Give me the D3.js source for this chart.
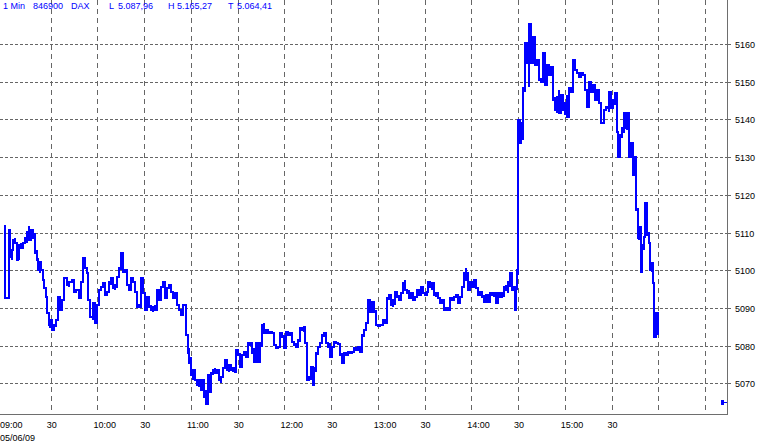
<!DOCTYPE html>
<html><head><meta charset="utf-8">
<script src="https://cdn.jsdelivr.net/npm/d3@7/dist/d3.min.js"></script>
<style>
html,body{margin:0;padding:0;background:#fff;}
svg{display:block;font-family:"Liberation Sans",Arial,sans-serif;}
</style>
</head><body>
<svg id="chart" width="758" height="444"></svg>
<script>
// ---------------- data ----------------
const sessionDate = "05/06/09";
const headerFields = ["1 Min", "846900", "DAX"];
const statKeys = ["L", "H", "T"];
const statValues = [5087.96, 5165.27, 5064.41];
const priceTicks = [5070, 5080, 5090, 5100, 5110, 5120, 5130, 5140, 5150, 5160];
const timeTickLabels = ["09:00","30","10:00","30","11:00","30","12:00","30","13:00","30","14:00","30","15:00","30","",""];
const markerPrice = 5065.0;

// minutes after 09:00 for each plotted bar
const barMinute = [
0.5,2.6,3.5,4.8,5.5,6.7,7.8,8.7,9.6,10.8,
11.9,13.2,14.4,15.7,17.0,18.3,19.6,20.9,21.5,22.5,
23.4,24.7,25.5,26.6,27.3,28.6,29.2,30.5,31.8,33.1,
34.3,35.4,36.9,38.2,40.1,41.7,43.1,44.3,45.9,48.0,
49.1,50.4,51.7,52.8,53.8,55.1,56.6,58.1,59.4,60.7,
62.0,63.3,64.5,65.8,67.1,68.4,69.7,70.9,72.2,73.5,
74.8,76.1,77.4,78.6,79.9,81.2,82.5,83.8,85.1,86.3,
87.6,88.9,90.2,91.5,92.8,94.1,95.3,96.6,97.9,99.2,
100.5,101.8,103.1,104.3,105.6,106.9,108.2,109.5,110.7,112.0,
113.3,114.6,116.5,117.5,118.4,119.7,121.0,122.3,123.6,124.9,
126.2,127.4,128.3,129.2,130.5,131.7,132.6,133.9,135.1,136.4,
137.7,139.0,140.3,141.6,142.8,144.1,145.4,146.7,148.0,148.8,
150.1,151.4,152.7,153.9,155.2,156.1,157.4,158.7,160.0,161.3,
162.6,163.8,165.1,166.4,167.7,169.0,170.3,171.5,172.8,174.1,
175.4,176.7,178.0,179.2,180.5,181.8,183.1,184.4,185.7,186.9,
188.2,189.5,190.8,192.1,193.1,194.2,195.5,196.8,197.9,198.9,
200.2,201.5,202.7,204.0,205.3,206.6,207.9,209.2,210.4,211.7,
213.0,214.3,215.6,216.9,218.1,219.4,220.7,222.0,223.3,224.6,
225.9,227.1,228.4,229.7,231.0,232.3,233.2,234.5,235.7,237.0,
238.3,240.0,241.3,243.0,244.3,245.6,246.8,248.1,249.4,250.7,
252.0,253.3,254.6,255.8,257.1,258.4,259.7,261.0,262.3,263.5,
264.8,266.1,267.4,268.7,270.0,271.2,272.1,273.4,274.6,275.9,
277.2,278.5,279.8,281.1,282.4,283.6,284.9,286.2,287.5,288.8,
290.1,291.3,292.6,293.9,295.0,296.3,297.6,298.8,300.1,301.4,
302.7,304.0,305.3,306.5,307.8,309.1,310.4,311.7,313.0,314.3,
315.5,316.8,318.1,319.4,320.7,322.0,323.2,324.5,325.8,327.1,
327.8,328.4,329.0,329.6,330.8,331.6,332.9,334.2,335.5,336.7,
338.0,339.3,340.6,341.9,343.2,344.4,345.7,347.0,348.3,349.6,
350.9,352.1,353.4,354.7,356.0,357.3,358.6,359.8,361.1,362.4,
363.7,365.0,366.3,367.5,368.8,370.1,371.4,372.7,374.0,375.2,
376.5,377.8,379.1,380.4,381.7,382.9,384.7,386.0,387.3,388.3,
389.4,390.7,392.0,393.0,393.9,395.0,396.2,397.5,398.5,399.6,
400.9,402.2,403.3,404.3,405.4,406.5,407.5,408.4,409.3,410.4,
411.4,412.5,413.6,414.4,415.5,416.2,417.2,418.5,419.6
];
const barHigh = [
5112.0,5110.7,5105.9,5105.4,5108.0,5108.5,5106.2,5104.1,5106.7,5107.2,
5107.2,5108.5,5110.1,5111.7,5110.7,5109.9,5109.9,5105.4,5103.3,5102.2,
5102.2,5100.1,5097.4,5095.3,5092.9,5088.6,5086.8,5086.0,5085.5,5086.8,
5092.9,5092.6,5092.1,5097.9,5097.4,5096.9,5097.4,5096.9,5094.7,5094.0,
5096.9,5103.3,5102.7,5100.6,5099.3,5091.3,5091.3,5088.9,5090.8,5094.7,
5095.5,5096.6,5094.7,5094.2,5096.9,5097.9,5096.9,5096.1,5098.2,5100.6,
5104.6,5101.9,5100.1,5099.5,5096.1,5097.9,5097.4,5096.9,5094.0,5090.8,
5097.9,5096.9,5090.8,5092.9,5092.6,5090.8,5090.2,5090.8,5094.7,5094.7,
5095.5,5096.9,5094.7,5095.3,5096.1,5096.1,5094.0,5094.0,5092.6,5090.8,
5089.4,5090.8,5090.8,5079.6,5079.4,5077.0,5073.5,5073.0,5070.9,5070.9,
5070.3,5070.9,5069.5,5068.2,5072.2,5070.3,5072.7,5073.5,5074.1,5073.5,
5073.5,5071.7,5074.1,5076.2,5075.6,5074.9,5074.3,5074.1,5074.3,5078.8,
5078.8,5078.0,5077.5,5078.3,5078.3,5080.7,5081.0,5081.0,5079.4,5080.7,
5077.0,5080.7,5085.5,5086.0,5084.1,5083.6,5083.6,5083.6,5083.3,5080.2,
5079.6,5083.3,5083.3,5082.8,5083.6,5083.6,5083.3,5083.3,5080.7,5080.7,
5081.5,5084.7,5084.9,5084.9,5084.9,5080.7,5071.7,5074.3,5073.5,5074.1,
5078.0,5079.6,5080.7,5082.8,5083.3,5083.3,5081.0,5080.7,5079.6,5081.0,
5081.0,5080.7,5080.7,5078.0,5078.0,5078.0,5078.3,5078.3,5078.3,5079.4,
5079.4,5079.6,5079.4,5082.8,5084.1,5086.0,5092.1,5091.3,5091.6,5090.0,
5089.4,5085.5,5085.5,5086.8,5086.8,5092.6,5093.4,5092.9,5092.1,5094.2,
5094.2,5093.4,5094.0,5096.6,5097.4,5094.7,5094.7,5094.0,5092.9,5092.9,
5094.7,5094.2,5095.5,5095.3,5094.2,5094.2,5096.9,5096.6,5096.6,5094.2,
5094.0,5093.4,5092.6,5092.1,5091.3,5090.0,5090.2,5092.6,5092.6,5092.9,
5093.4,5092.9,5092.9,5095.5,5099.3,5100.6,5099.5,5096.9,5096.9,5097.4,
5097.4,5094.7,5094.2,5094.0,5093.4,5093.4,5092.9,5094.0,5094.2,5094.0,
5092.9,5094.0,5094.0,5094.0,5095.5,5096.1,5096.9,5099.3,5097.4,5095.5,
5095.5,5095.5,5100.1,5139.8,5136.4,5139.0,5148.3,5160.3,5158.4,5165.3,
5162.4,5161.9,5161.6,5155.8,5154.4,5151.0,5157.6,5156.6,5154.4,5154.4,
5153.9,5151.8,5145.9,5145.9,5147.8,5146.5,5144.6,5144.3,5146.5,5148.3,
5147.8,5155.8,5155.8,5153.1,5152.6,5152.3,5152.6,5151.8,5147.8,5149.9,
5149.7,5149.1,5147.8,5147.8,5147.3,5143.8,5142.5,5143.3,5143.3,5147.3,
5146.5,5145.1,5147.0,5144.6,5134.5,5135.9,5137.7,5141.7,5141.7,5141.7,
5137.7,5133.7,5132.7,5130.0,5125.8,5116.5,5111.5,5107.2,5106.7,5108.8,
5117.8,5111.2,5110.1,5107.2,5101.9,5101.9,5096.6,5088.6,5088.0
];
const barLow = [
5092.6,5101.9,5103.5,5102.7,5105.4,5107.2,5102.7,5102.7,5102.7,5105.9,
5106.7,5107.2,5107.2,5108.0,5109.3,5108.5,5104.6,5102.7,5100.1,5099.3,
5100.1,5097.4,5095.3,5092.9,5088.6,5085.5,5084.7,5084.1,5084.1,5084.9,
5087.6,5089.4,5090.2,5092.1,5096.1,5095.5,5096.6,5094.2,5094.2,5092.6,
5092.6,5097.9,5100.6,5099.3,5092.1,5087.6,5086.8,5086.0,5088.6,5091.3,
5094.7,5095.3,5093.4,5094.0,5094.2,5096.1,5095.3,5094.7,5095.3,5097.9,
5100.1,5099.5,5099.5,5096.1,5094.7,5096.6,5096.9,5094.2,5090.2,5090.0,
5090.0,5094.0,5089.4,5090.2,5090.2,5089.4,5088.9,5089.4,5091.3,5092.1,
5094.7,5095.3,5092.6,5094.0,5095.3,5094.2,5092.6,5092.6,5090.8,5089.4,
5088.1,5088.1,5082.8,5078.0,5075.4,5072.2,5070.9,5070.9,5069.5,5069.0,
5068.2,5068.8,5066.4,5064.4,5067.7,5067.7,5067.7,5072.2,5072.7,5072.7,
5070.9,5070.1,5071.4,5074.3,5073.5,5073.0,5073.5,5073.0,5073.0,5074.3,
5077.5,5074.3,5074.9,5077.5,5077.0,5078.0,5080.2,5078.0,5075.6,5076.7,
5075.6,5075.6,5079.6,5083.3,5083.3,5083.3,5083.3,5083.3,5080.2,5079.4,
5079.4,5079.6,5082.3,5079.4,5080.2,5082.8,5082.8,5081.0,5080.2,5079.6,
5080.7,5081.0,5084.1,5083.6,5080.7,5070.9,5070.9,5070.9,5069.5,5072.2,
5073.0,5077.5,5079.4,5080.7,5082.3,5080.7,5079.6,5077.0,5077.5,5079.6,
5080.7,5080.4,5077.5,5075.4,5076.7,5077.5,5078.0,5078.0,5078.0,5078.3,
5078.8,5078.8,5078.3,5079.4,5082.3,5084.1,5086.0,5088.9,5089.4,5088.9,
5085.5,5085.2,5084.9,5085.5,5086.0,5086.8,5092.1,5090.8,5090.2,5090.8,
5092.9,5092.1,5092.6,5094.0,5094.7,5094.0,5092.6,5092.9,5092.1,5092.1,
5093.4,5093.4,5094.0,5094.0,5093.4,5094.0,5094.0,5095.5,5094.7,5093.4,
5092.9,5092.6,5091.3,5091.3,5089.4,5089.4,5089.4,5090.2,5092.1,5092.6,
5092.6,5091.3,5092.1,5092.9,5095.5,5097.4,5094.7,5094.7,5095.5,5096.6,
5095.3,5093.4,5093.4,5092.9,5091.6,5092.1,5091.6,5092.6,5093.4,5092.9,
5091.3,5092.1,5092.9,5092.9,5092.9,5094.7,5094.0,5095.5,5094.7,5094.7,
5089.4,5094.2,5094.7,5098.7,5133.7,5134.5,5134.5,5147.3,5155.0,5148.6,
5155.0,5155.0,5154.4,5154.4,5150.5,5149.9,5149.7,5149.1,5153.6,5151.8,
5151.8,5145.1,5142.5,5141.7,5141.7,5141.7,5142.5,5141.2,5140.6,5144.6,
5147.3,5147.3,5153.1,5152.3,5151.2,5151.2,5151.8,5147.8,5143.3,5147.3,
5147.3,5147.8,5145.1,5146.5,5144.3,5139.0,5141.7,5142.5,5143.0,5142.0,
5143.0,5143.8,5143.8,5136.7,5130.0,5130.0,5135.1,5136.4,5137.7,5137.2,
5130.0,5130.0,5125.3,5127.1,5116.0,5108.5,5108.0,5099.5,5105.9,5105.4,
5108.8,5109.3,5107.2,5100.1,5099.5,5096.6,5082.3,5082.3,5082.8
];

// ---------------- layout ----------------
const plotLeft = 0, plotRight = 727, plotBottom = 414;
const sessionStart = new Date(2009, 5, 5, 9, 0);
const addMin = m => new Date(sessionStart.getTime() + m * 60000);

const x = d3.scaleTime().domain([sessionStart, addMin(463.8)]).range([4.5, plotRight]);
const y = d3.scaleLinear().domain([5061.86, 5171.67]).range([plotBottom, 0]);

const svg = d3.select("#chart");
svg.append("rect").attr("width", 758).attr("height", 444).attr("fill", "#fff");

const gridColor = "#666666";
const axisColor = "#6e6e6e";

// horizontal grid
const gy = svg.append("g");
priceTicks.forEach(v => {
  const yy = Math.round(y(v)) + 0.5;
  gy.append("line").attr("x1", plotLeft).attr("x2", plotRight).attr("y1", yy).attr("y2", yy)
    .attr("stroke", gridColor).attr("stroke-dasharray", "3,2").attr("shape-rendering", "crispEdges");
  gy.append("line").attr("x1", plotRight).attr("x2", plotRight + 4).attr("y1", yy).attr("y2", yy)
    .attr("stroke", gridColor).attr("shape-rendering", "crispEdges");
  gy.append("text").attr("x", 735).attr("y", yy).attr("dy", "0.35em")
    .attr("font-size", 9).attr("fill", "#000").text(v);
});

// vertical grid + time labels
const timeTicks = d3.timeMinute.every(30).range(sessionStart, addMin(463.8));
const gx = svg.append("g");
timeTicks.forEach((t, i) => {
  const xx = Math.floor(x(t)) + 0.5;
  if (i > 0) {
    gx.append("line").attr("x1", xx).attr("x2", xx).attr("y1", 0).attr("y2", plotBottom)
      .attr("stroke", gridColor).attr("stroke-dasharray", "5,4").attr("shape-rendering", "crispEdges");
  }
  const lab = timeTickLabels[i] || "";
  if (lab) {
    gx.append("text").attr("x", Math.max(0, x(t) - 4.5)).attr("y", 427.5)
      .attr("font-size", 9).attr("fill", "#000").text(lab);
  }
});
svg.append("text").attr("x", 0).attr("y", 440.5).attr("font-size", 9).attr("fill", "#000").text(sessionDate);

// axes frame
svg.append("line").attr("x1", plotRight + 0.5).attr("x2", plotRight + 0.5).attr("y1", 0).attr("y2", plotBottom + 1)
  .attr("stroke", axisColor).attr("shape-rendering", "crispEdges");
svg.append("line").attr("x1", 0).attr("x2", plotRight + 1).attr("y1", plotBottom + 0.5).attr("y2", plotBottom + 0.5)
  .attr("stroke", axisColor).attr("shape-rendering", "crispEdges");

// price line: each bar drawn as a vertical stroke, joined stepwise
const pts = [];
let prev = null;
barMinute.forEach((m, i) => {
  const t = addMin(m), h = barHigh[i], l = barLow[i];
  let a, b;
  if (prev === null) { a = h; b = l; }
  else if (Math.abs(h - prev) < Math.abs(l - prev)) { a = h; b = l; }
  else { a = l; b = h; }
  if (i === barMinute.length - 1) { a = l; b = h; }
  pts.push({t, v: a}, {t, v: b});
  prev = b;
});
const line = d3.line()
  .x(d => Math.round(x(d.t)))
  .y(d => Math.round(y(d.v)))
  .curve(d3.curveStepAfter);
svg.append("path").attr("d", line(pts)).attr("fill", "none")
  .attr("stroke", "#0000ff").attr("stroke-width", 2).attr("shape-rendering", "crispEdges");

// right-edge marker
const my = Math.round(y(markerPrice)) + 0.5;
svg.append("rect").attr("x", 721).attr("y", my - 2.5).attr("width", 3).attr("height", 5).attr("fill", "#0000ff");
svg.append("line").attr("x1", 724).attr("x2", plotRight).attr("y1", my).attr("y2", my)
  .attr("stroke", "#0000ff").attr("shape-rendering", "crispEdges");

// header
const fmt = d3.formatLocale({decimal: ",", thousands: ".", grouping: [3], currency: ["", "€"]}).format(",.2f");
const hdr = svg.append("g").attr("font-size", 9).attr("fill", "#0000ff");
const fieldX = [3, 33, 71];
headerFields.forEach((f, i) => hdr.append("text").attr("x", fieldX[i]).attr("y", 8.5).text(f));
const statX = [109, 168, 228];
statKeys.forEach((k, i) => {
  hdr.append("text").attr("x", statX[i]).attr("y", 8.5).text(k);
  hdr.append("text").attr("x", statX[i] + 9).attr("y", 8.5).text(fmt(statValues[i]));
});
</script>
</body></html>
